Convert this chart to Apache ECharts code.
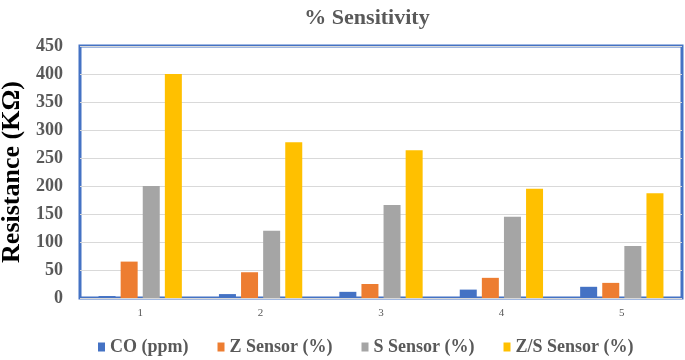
<!DOCTYPE html>
<html>
<head>
<meta charset="utf-8">
<script src="https://cdn.jsdelivr.net/npm/echarts@6/dist/echarts.min.js"></script>
<style>
  html, body { margin: 0; padding: 0; background: #fff; }
  #chart { width: 685px; height: 360px; }
</style>
</head>
<body>
<div id="chart"></div>
<script>
// values
var categories = ["1", "2", "3", "4", "5"];
var coPpm     = [3.5, 7, 11, 15, 20];
var zSensor   = [65, 46, 25, 36, 27];
var sSensor   = [200, 120, 166, 145, 93];
var zsSensor  = [400, 278, 264, 195, 187];

var serif = "'Liberation Serif', 'Times New Roman', serif";

var chart = echarts.init(document.getElementById("chart"));

function bar(name, data, color) {
    return {type: "bar", name: name, data: data, barWidth: 17, barGap: "30%",
        itemStyle: {color: color}}
}

chart.setOption({
    animation: false,
    title: {text: "% Sensitivity", left: 362, top: 2, textAlign: "center",
        textStyle: {fontFamily: serif, fontSize: 22, fontWeight: "bold", color: "#595959"}},
    grid: {left: 80, top: 46, width: 602, height: 252, show: true, outerBoundsMode: "none",
        borderColor: "#4472C4", borderWidth: 3, backgroundColor: "#fff"},
    legend: {top: 333, left: 93, itemWidth: 7, itemHeight: 9, itemGap: 29, icon: "rect",
        textStyle: {fontFamily: serif, fontSize: 18, fontWeight: "bold", color: "#595959"}},
    xAxis: {type: "category", data: categories,
        axisLine: {show: false}, axisTick: {show: false},
        axisLabel: {fontFamily: serif, fontSize: 11, color: "#595959", margin: 10}},
    yAxis: {type: "value", min: 0, max: 450, interval: 50,
        name: "Resistance (KΩ)", nameLocation: "middle", nameGap: 55,
        nameTextStyle: {fontFamily: serif, fontSize: 26, fontWeight: "bold", color: "#000"},
        axisLabel: {fontFamily: serif, fontSize: 18, fontWeight: "bold", color: "#595959", margin: 17},
        splitLine: {lineStyle: {color: "#D9D9D9", width: 1}}},
    series: [
        bar("CO (ppm)", coPpm, "#4472C4"),
        bar("Z Sensor (%)", zSensor, "#ED7D31"),
        bar("S Sensor (%)", sSensor, "#A5A5A5"),
        bar("Z/S Sensor (%)", zsSensor, "#FFC000")
    ]
});
</script>
</body>
</html>
